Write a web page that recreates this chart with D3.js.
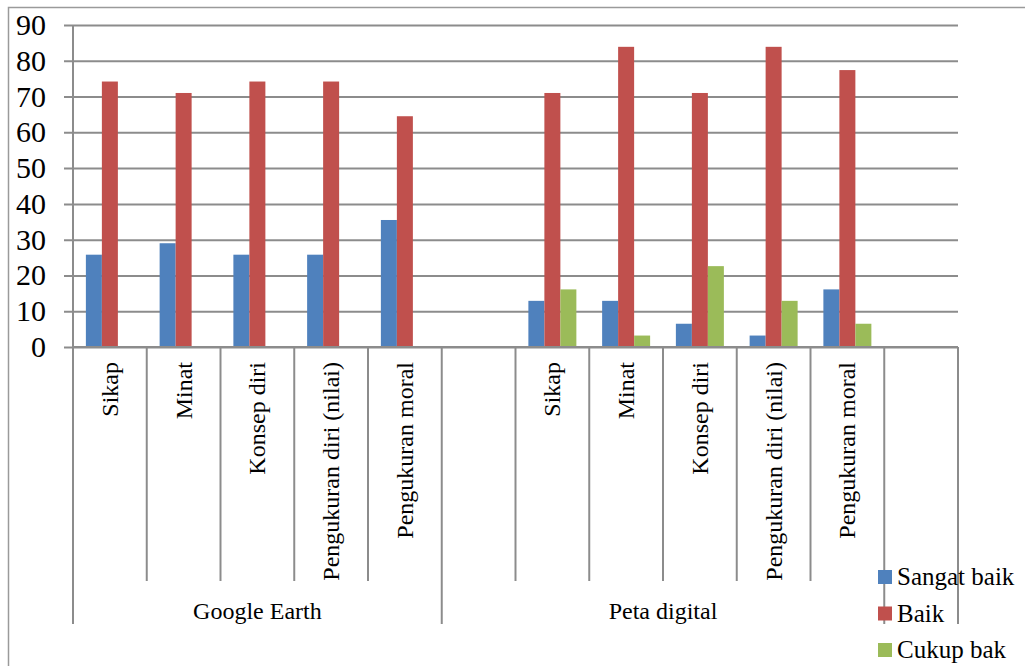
<!DOCTYPE html>
<html>
<head>
<meta charset="utf-8">
<script src="https://cdn.jsdelivr.net/npm/d3@7"></script>
<style>
  body { margin: 0; background: #fff; }
  svg { display: block; }
  svg text { font-family: "Liberation Serif", "Times New Roman", Tinos, "DejaVu Serif", "Noto Serif", serif; }
</style>
</head>
<body>
<div id="chart"></div>
<script>
// Data
var groups = ["Google Earth", "Peta digital", ""];
var categories = ["Sikap", "Minat", "Konsep diri", "Pengukuran diri (nilai)", "Pengukuran moral"];
// category slots per group (Peta digital starts with an empty slot, last group is empty)
var groupSlots = [
    categories,
    [""].concat(categories),
    [""]
];
var seriesNames = ["Sangat baik", "Baik", "Cukup bak"];
var sangatBaik = [25.8, 29.0, 25.8, 25.8, 35.5, null, 12.9, 12.9, 6.5, 3.2, 16.1, null];
var baik = [74.2, 71.0, 74.2, 74.2, 64.5, null, 71.0, 83.9, 71.0, 83.9, 77.4, null];
var cukupBak = [0, 0, 0, 0, 0, null, 16.1, 3.2, 22.6, 12.9, 6.5, null];
var yTicks = [0, 10, 20, 30, 40, 50, 60, 70, 80, 90];

var colors = ["#4F81BD", "#C0504D", "#9BBB59"];
var seriesValues = [sangatBaik, baik, cukupBak];

var width = 1025,
    height = 666;
var plotLeft = 73,
    plotRight = 958,
    plotTop = 25,
    plotBottom = 347;
var gridColor = "#8c8c8c";

// flatten slots
var slots = [];
var groupBounds = [];
groupSlots.forEach(function(list, gi) {
    var start = slots.length;
    list.forEach(function(c) {
        slots.push({group: gi, label: c, index: slots.length});
    });
    groupBounds.push([start, slots.length]);
});

var svg = d3.select("#chart").append("svg")
    .attr("width", width)
    .attr("height", height);

// outer border (cropped chart area)
svg.append("path")
    .attr("d", "M8.5," + height + "V7.5H" + width)
    .attr("fill", "none")
    .attr("stroke", "#9a9a9a")
    .attr("stroke-width", 1.5);

var x = d3.scaleBand()
    .domain(slots.map(function(d) { return d.index; }))
    .range([plotLeft, plotRight])
    .padding(0);

var xInner = d3.scaleBand()
    .domain(d3.range(seriesNames.length))
    .range([0, x.bandwidth()])
    .paddingInner(0)
    .paddingOuter(0.805);

var y = d3.scaleLinear()
    .domain([0, 90])
    .range([plotBottom, plotTop]);

// horizontal gridlines + ticks
var yAxis = d3.axisLeft(y)
    .tickValues(yTicks)
    .tickSize(-(plotRight - plotLeft))
    .tickSizeOuter(0)
    .tickFormat("");
var yg = svg.append("g")
    .attr("transform", "translate(" + plotLeft + ",0)")
    .call(yAxis);
yg.select(".domain").remove();
yg.selectAll(".tick line")
    .attr("x1", -9)
    .attr("stroke", gridColor)
    .attr("stroke-width", 2);

// y labels
svg.append("g").selectAll("text")
    .data(yTicks)
    .enter().append("text")
    .attr("x", 46)
    .attr("y", function(d) { return y(d) + 10; })
    .attr("text-anchor", "end")
    .attr("font-size", 30)
    .attr("fill", "#000")
    .text(function(d) { return d; });

// y axis line
svg.append("line")
    .attr("x1", plotLeft).attr("x2", plotLeft)
    .attr("y1", plotTop).attr("y2", plotBottom)
    .attr("stroke", gridColor)
    .attr("stroke-width", 2);

// bars
seriesValues.forEach(function(values, si) {
    svg.append("g").selectAll("rect")
        .data(slots.filter(function(d) { return values[d.index] !== null; }))
        .enter().append("rect")
        .attr("x", function(d) { return x(d.index) + xInner(si); })
        .attr("width", xInner.bandwidth())
        .attr("y", function(d) { return y(values[d.index]); })
        .attr("height", function(d) { return plotBottom - y(values[d.index]); })
        .attr("fill", colors[si]);
});

// category axis line
svg.append("line")
    .attr("x1", plotLeft).attr("x2", plotRight)
    .attr("y1", plotBottom).attr("y2", plotBottom)
    .attr("stroke", gridColor)
    .attr("stroke-width", 2);

// category separators
var longBounds = {};
groupBounds.forEach(function(b) { longBounds[b[0]] = true; longBounds[b[1]] = true; });
svg.append("g").selectAll("line")
    .data(d3.range(slots.length + 1))
    .enter().append("line")
    .attr("x1", function(i) { return i < slots.length ? x(i) : plotRight; })
    .attr("x2", function(i) { return i < slots.length ? x(i) : plotRight; })
    .attr("y1", plotBottom)
    .attr("y2", function(i) { return longBounds[i] ? 624 : 581; })
    .attr("stroke", gridColor)
    .attr("stroke-width", 2);

// rotated category labels
svg.append("g").selectAll("text")
    .data(slots.filter(function(d) { return d.label !== ""; }))
    .enter().append("text")
    .attr("transform", function(d) {
        return "translate(" + (x(d.index) + x.bandwidth() / 2 + 8) + ",362) rotate(-90)";
    })
    .attr("text-anchor", "end")
    .attr("font-size", 24)
    .attr("fill", "#000")
    .text(function(d) { return d.label; });

// group labels
svg.append("g").selectAll("text")
    .data(groupBounds.filter(function(b, i) { return groups[i] !== ""; }))
    .enter().append("text")
    .attr("x", function(b) { return (x(b[0]) + (b[1] < slots.length ? x(b[1]) : plotRight)) / 2; })
    .attr("y", 619)
    .attr("text-anchor", "middle")
    .attr("font-size", 24)
    .attr("fill", "#000")
    .text(function(b, i) { return groups[i]; });

// legend
var legend = svg.append("g").selectAll("g")
    .data(seriesNames)
    .enter().append("g")
    .attr("transform", function(d, i) { return "translate(878," + (570 + i * 36.5) + ")"; });
legend.append("rect")
    .attr("width", 14)
    .attr("height", 14)
    .attr("fill", function(d, i) { return colors[i]; });
legend.append("text")
    .attr("x", 19)
    .attr("y", 15)
    .attr("font-size", 25)
    .attr("fill", "#000")
    .text(function(d) { return d; });
</script>
</body>
</html>
